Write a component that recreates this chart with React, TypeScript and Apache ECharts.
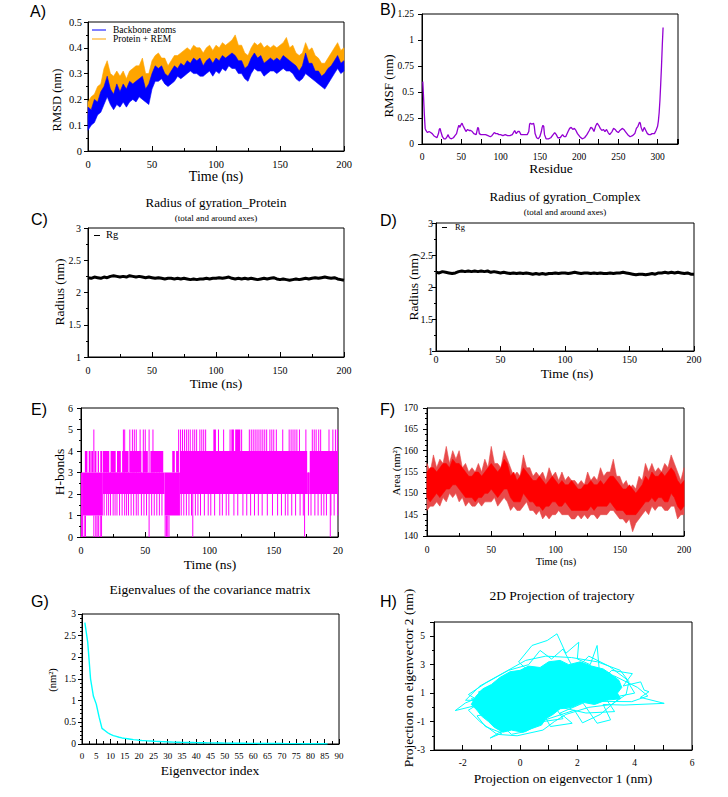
import React, { useEffect, useRef } from 'react';
import * as echarts from 'echarts';

// ---------- A) RMSD: low / high envelope of each trace, one sample every 2.5 ns (0–200 ns)
const RMSD_STEP = 2.5;
const rmsdBackboneLow = [
  0.08, 0.10, 0.11, 0.14, 0.15, 0.18, 0.21, 0.18, 0.16, 0.18,
  0.17, 0.19, 0.17, 0.19, 0.20, 0.19, 0.21, 0.20, 0.19, 0.18,
  0.24, 0.27, 0.27, 0.28, 0.26, 0.25, 0.26, 0.27, 0.29, 0.28,
  0.29, 0.30, 0.31, 0.30, 0.30, 0.29, 0.29, 0.30, 0.31, 0.29,
  0.31, 0.30, 0.32, 0.31, 0.33, 0.32, 0.32, 0.30, 0.30, 0.28,
  0.27, 0.30, 0.32, 0.31, 0.31, 0.29, 0.30, 0.31, 0.31, 0.30,
  0.31, 0.32, 0.31, 0.31, 0.30, 0.28, 0.27, 0.28, 0.30, 0.29,
  0.28, 0.27, 0.26, 0.25, 0.24, 0.26, 0.28, 0.30, 0.32, 0.30,
  0.31,
];
const rmsdBackboneHigh = [
  0.17, 0.16, 0.20, 0.19, 0.23, 0.25, 0.29, 0.24, 0.22, 0.26,
  0.23, 0.26, 0.24, 0.27, 0.26, 0.27, 0.28, 0.29, 0.24, 0.26,
  0.30, 0.33, 0.32, 0.33, 0.30, 0.29, 0.31, 0.33, 0.32, 0.34,
  0.33, 0.35, 0.34, 0.36, 0.35, 0.36, 0.33, 0.35, 0.36, 0.34,
  0.36, 0.35, 0.37, 0.36, 0.37, 0.38, 0.37, 0.35, 0.35, 0.32,
  0.33, 0.36, 0.38, 0.36, 0.37, 0.34, 0.35, 0.36, 0.35, 0.36,
  0.35, 0.37, 0.36, 0.35, 0.34, 0.33, 0.31, 0.33, 0.38, 0.34,
  0.34, 0.31, 0.31, 0.29, 0.30, 0.32, 0.33, 0.35, 0.37, 0.34,
  0.35,
];
const rmsdComplexLow = [
  0.14, 0.16, 0.18, 0.19, 0.22, 0.23, 0.26, 0.23, 0.21, 0.23,
  0.22, 0.24, 0.23, 0.24, 0.25, 0.24, 0.26, 0.27, 0.23, 0.24,
  0.28, 0.30, 0.31, 0.30, 0.29, 0.27, 0.29, 0.30, 0.31, 0.32,
  0.31, 0.33, 0.33, 0.34, 0.33, 0.33, 0.32, 0.33, 0.34, 0.33,
  0.34, 0.34, 0.35, 0.35, 0.35, 0.36, 0.35, 0.34, 0.33, 0.31,
  0.31, 0.34, 0.36, 0.35, 0.35, 0.33, 0.33, 0.34, 0.34, 0.34,
  0.34, 0.35, 0.35, 0.34, 0.33, 0.31, 0.30, 0.31, 0.35, 0.33,
  0.32, 0.30, 0.29, 0.28, 0.28, 0.30, 0.31, 0.33, 0.35, 0.33,
  0.33,
];
const rmsdComplexHigh = [
  0.19, 0.21, 0.22, 0.25, 0.26, 0.32, 0.35, 0.30, 0.29, 0.31,
  0.29, 0.31, 0.28, 0.31, 0.32, 0.33, 0.33, 0.36, 0.30, 0.30,
  0.35, 0.37, 0.38, 0.36, 0.36, 0.33, 0.35, 0.37, 0.37, 0.38,
  0.39, 0.40, 0.39, 0.41, 0.40, 0.40, 0.38, 0.40, 0.41, 0.39,
  0.41, 0.40, 0.42, 0.41, 0.42, 0.43, 0.45, 0.41, 0.41, 0.38,
  0.37, 0.40, 0.42, 0.41, 0.42, 0.40, 0.41, 0.40, 0.41, 0.40,
  0.41, 0.42, 0.44, 0.40, 0.41, 0.38, 0.37, 0.38, 0.42, 0.39,
  0.40, 0.37, 0.36, 0.34, 0.34, 0.36, 0.38, 0.40, 0.42, 0.39,
  0.40,
];

// ---------- B) RMSF per residue: [residue, nm]
const rmsfByResidue = [
  [1, 0.6], [2, 0.45], [3, 0.28], [4, 0.15], [5, 0.13], [7, 0.11], [9, 0.12], [11, 0.11], [13, 0.1],
  [15, 0.08], [17, 0.07], [19, 0.06], [21, 0.1], [22, 0.14], [23, 0.15], [24, 0.12], [26, 0.07],
  [28, 0.05], [30, 0.05], [32, 0.07], [33, 0.09], [35, 0.06], [37, 0.05], [40, 0.06], [42, 0.08],
  [44, 0.1], [46, 0.16], [47, 0.18], [48, 0.16], [50, 0.19], [51, 0.2], [52, 0.18], [54, 0.15],
  [56, 0.12], [58, 0.14], [60, 0.13], [62, 0.13], [64, 0.12], [66, 0.1], [69, 0.09], [71, 0.16],
  [72, 0.15], [73, 0.1], [75, 0.09], [78, 0.09], [81, 0.09], [84, 0.08], [87, 0.07], [89, 0.08],
  [92, 0.11], [94, 0.1], [96, 0.1], [98, 0.09], [100, 0.09], [103, 0.08], [106, 0.09], [109, 0.08],
  [112, 0.08], [115, 0.09], [118, 0.13], [120, 0.1], [122, 0.12], [124, 0.12], [126, 0.09],
  [130, 0.09], [134, 0.09], [136, 0.12], [137, 0.19], [138, 0.2], [140, 0.19], [142, 0.2],
  [143, 0.17], [144, 0.1], [146, 0.06], [148, 0.05], [150, 0.07], [152, 0.12], [153, 0.16],
  [154, 0.18], [155, 0.17], [156, 0.09], [158, 0.05], [161, 0.05], [164, 0.06], [167, 0.09],
  [169, 0.11], [171, 0.09], [173, 0.06], [176, 0.06], [179, 0.09], [181, 0.07], [183, 0.07],
  [186, 0.12], [188, 0.15], [190, 0.16], [192, 0.14], [194, 0.15], [196, 0.13], [198, 0.1],
  [201, 0.07], [204, 0.05], [207, 0.06], [210, 0.09], [213, 0.13], [215, 0.16], [217, 0.15],
  [219, 0.12], [221, 0.17], [223, 0.2], [225, 0.18], [227, 0.15], [229, 0.13], [231, 0.14],
  [233, 0.12], [235, 0.14], [237, 0.11], [239, 0.09], [242, 0.12], [244, 0.15], [246, 0.14],
  [248, 0.12], [250, 0.11], [252, 0.13], [255, 0.15], [257, 0.14], [259, 0.12], [262, 0.09],
  [265, 0.07], [268, 0.08], [271, 0.1], [273, 0.15], [275, 0.17], [277, 0.21], [278, 0.2],
  [279, 0.16], [281, 0.12], [283, 0.16], [285, 0.13], [287, 0.1], [289, 0.09], [291, 0.09],
  [293, 0.1], [296, 0.1], [298, 0.13], [300, 0.17], [301, 0.22], [302, 0.3], [303, 0.42],
  [304, 0.58], [305, 0.75], [306, 0.95], [307, 1.12],
];

// ---------- C/D) Radius of gyration, one sample every 2.5 ns
const RG_STEP = 2.5;
const rgProtein = [
  2.23, 2.22, 2.24, 2.23, 2.22, 2.24, 2.23, 2.25, 2.26, 2.25,
  2.24, 2.25, 2.24, 2.26, 2.25, 2.24, 2.25, 2.24, 2.23, 2.24,
  2.23, 2.22, 2.23, 2.22, 2.21, 2.22, 2.22, 2.21, 2.22, 2.21,
  2.22, 2.21, 2.20, 2.21, 2.20, 2.21, 2.21, 2.22, 2.21, 2.22,
  2.22, 2.23, 2.22, 2.23, 2.24, 2.22, 2.21, 2.22, 2.21, 2.22,
  2.21, 2.22, 2.21, 2.20, 2.21, 2.22, 2.21, 2.22, 2.23, 2.21,
  2.20, 2.21, 2.20, 2.19, 2.20, 2.21, 2.20, 2.21, 2.22, 2.21,
  2.22, 2.23, 2.22, 2.23, 2.24, 2.23, 2.22, 2.23, 2.21, 2.20,
  2.19,
];
const rgComplex = [
  2.23, 2.22, 2.24, 2.23, 2.22, 2.21, 2.22, 2.24, 2.25, 2.24,
  2.25, 2.24, 2.25, 2.24, 2.25, 2.24, 2.25, 2.23, 2.24, 2.23,
  2.22, 2.23, 2.22, 2.21, 2.22, 2.21, 2.22, 2.21, 2.22, 2.21,
  2.20, 2.21, 2.20, 2.21, 2.20, 2.21, 2.21, 2.22, 2.21, 2.22,
  2.22, 2.21, 2.22, 2.23, 2.22, 2.21, 2.22, 2.22, 2.21, 2.22,
  2.21, 2.22, 2.21, 2.21, 2.22, 2.21, 2.22, 2.22, 2.23, 2.22,
  2.21, 2.20, 2.19, 2.20, 2.20, 2.19, 2.20, 2.21, 2.20, 2.22,
  2.22, 2.23, 2.22, 2.23, 2.22, 2.23, 2.22, 2.21, 2.22, 2.20,
  2.20,
];

// ---------- E) H-bonds: densely occupied spans [t0, t1, low, high] and single frames [t, low, high]
const hbondBlocks = [
  [0, 1.5, 0, 3], [1.5, 17, 1, 3],
  [3, 5, 3, 4], [6, 7.5, 3, 4], [8, 9.5, 3, 4], [10.5, 12, 3, 4], [13, 14, 3, 4], [15, 16.5, 3, 4],
  [17, 65, 2, 3],
  [17, 22, 3, 4], [23, 27, 3, 4], [28, 31, 3, 4], [32, 37, 3, 4], [38, 47, 3, 4], [48, 52, 3, 4], [54, 64, 3, 4],
  [65, 77, 1, 3], [71, 73, 3, 4], [74, 76, 3, 4],
  [77, 176, 2, 4], [176, 178, 2, 3], [178, 200, 2, 4],
  [103, 105, 4, 5], [117, 119, 4, 5], [120, 124, 4, 5],
];
const hbondSpikes = [
  [10, 3, 5], [33, 3, 5], [34, 3, 5], [38, 3, 5], [40, 3, 5], [41.5, 3, 5], [43, 3, 5], [46, 3, 5],
  [48.5, 3, 5], [50, 3, 5], [53, 3, 5], [56, 3, 5], [76, 3, 5], [77.5, 3, 5], [79, 3, 5], [80.5, 3, 5],
  [82, 3, 5], [83.5, 3, 5], [85, 3, 5], [87, 3, 5], [88.5, 3, 5], [90, 3, 5], [92.5, 3, 5], [94, 3, 5],
  [95.5, 3, 5], [97, 3, 5], [107, 3, 5], [111, 3, 5], [116, 3, 5], [125, 3, 5], [131, 3, 5],
  [132.5, 3, 5], [134, 3, 5], [135.5, 3, 5], [137, 3, 5], [138.5, 3, 5], [140, 3, 5], [141.5, 3, 5],
  [143, 3, 5], [144.5, 3, 5], [147, 3, 5], [148.5, 3, 5], [150, 3, 5], [152, 3, 5], [157, 3, 5],
  [162, 3, 5], [163.5, 3, 5], [165, 3, 5], [166.5, 3, 5], [168, 3, 5], [170, 3, 5], [175, 3, 5],
  [180, 3, 5], [181.5, 3, 5], [183, 3, 5], [185, 3, 5], [186.5, 3, 5], [193, 3, 5], [196, 3, 5],
  [198, 3, 5], [199.5, 3, 5],
  [18, 1, 3], [20, 1, 3], [21.5, 1, 3], [23, 1, 3], [25, 1, 3], [26.5, 1, 3], [28, 1, 3], [30, 1, 3],
  [32, 1, 3], [34, 1, 3], [35.5, 1, 3], [37, 1, 3], [39, 1, 3], [41, 1, 3], [43, 1, 3], [44.5, 1, 3],
  [47, 1, 3], [49, 1, 3], [51, 1, 3], [55, 1, 3], [57, 1, 3], [59, 1, 3], [61, 1, 3], [63, 1, 3],
  [78, 1, 3], [80, 1, 3], [82, 1, 3], [84, 1, 3], [86, 1, 3], [89, 1, 3], [91, 1, 3], [93, 1, 3],
  [96, 1, 3], [99, 1, 3], [101, 1, 3], [104, 1, 3], [108, 1, 3], [110, 1, 3], [113, 1, 3],
  [115, 1, 3], [119, 1, 3], [122, 1, 3], [126, 1, 3], [129, 1, 3], [132, 1, 3], [135, 1, 3],
  [138, 1, 3], [141, 1, 3], [145, 1, 3], [149, 1, 3], [153, 1, 3], [156, 1, 3], [159, 1, 3],
  [161, 1, 3], [164, 1, 3], [167, 1, 3], [170.5, 1, 3], [173, 1, 3], [177, 1, 3], [179, 1, 3],
  [182, 1, 3], [184.5, 1, 3], [187, 1, 3], [189, 1, 3], [191, 1, 3], [194.5, 1, 3], [197, 1, 3],
  [199.8, 1, 3],
  [0.5, 0, 1], [2.5, 0, 1], [3.5, 0, 1], [10, 0, 1], [11.5, 0, 1], [12.5, 0, 1], [13.5, 0, 1],
  [15, 0, 1], [16, 0, 1], [53, 0, 2], [65.5, 0, 1], [66.5, 0, 1], [67.5, 0, 1], [68.5, 0, 1],
  [87, 0, 2], [174, 0, 2], [194, 0, 2],
];

// ---------- F) SASA (nm²): dense core and outer peaks, one sample every 2.5 ns
const SASA_STEP = 2.5;
const sasaCoreLow = [
  149, 148, 149, 150, 149, 150, 151, 151, 152, 152,
  151, 150, 149, 149, 149, 148, 149, 149, 150, 150,
  151, 150, 149, 150, 151, 151, 149, 148, 148, 148,
  150, 149, 148, 148, 147, 147, 146, 147, 147, 148,
  148, 147, 147, 148, 147, 146, 146, 146, 146, 146,
  146, 147, 146, 147, 147, 147, 147, 148, 147, 146,
  146, 146, 145, 145, 145, 145, 146, 147, 148, 148,
  149, 148, 149, 149, 148, 148, 150, 149, 147, 146,
  147,
];
const sasaCoreHigh = [
  155, 156, 156, 155, 156, 157, 157, 156, 158, 157,
  157, 156, 155, 154, 154, 155, 155, 154, 155, 156,
  157, 156, 155, 156, 158, 157, 154, 155, 153, 154,
  156, 155, 154, 153, 153, 154, 153, 152, 153, 154,
  153, 152, 153, 152, 152, 153, 152, 151, 151, 152,
  152, 153, 152, 152, 153, 152, 153, 154, 154, 153,
  152, 151, 151, 152, 151, 150, 151, 152, 154, 153,
  155, 154, 154, 155, 154, 155, 156, 155, 153, 152,
  153,
];
const sasaPeakLow = [
  146, 147, 147, 148, 147, 149, 148, 150, 149, 150,
  148, 149, 147, 148, 147, 147, 148, 147, 148, 148,
  148, 149, 147, 148, 149, 148, 146, 147, 146, 146,
  147, 148, 146, 146, 145, 146, 144, 145, 144, 145,
  145, 146, 145, 145, 145, 144, 144, 145, 144, 145,
  144, 145, 145, 144, 145, 145, 145, 146, 146, 145,
  144, 144, 143, 144, 141, 143, 144, 145, 146, 145,
  147, 146, 147, 147, 146, 146, 147, 147, 144, 145,
  145,
];
const sasaPeakHigh = [
  157, 155, 159, 156, 158, 157, 161, 157, 160, 158,
  160, 156, 157, 155, 156, 155, 157, 155, 158, 156,
  161, 157, 157, 156, 160, 158, 156, 154, 155, 154,
  159, 156, 156, 154, 155, 154, 155, 153, 156, 154,
  155, 153, 155, 153, 154, 153, 153, 152, 153, 152,
  155, 153, 154, 153, 156, 154, 155, 155, 158, 154,
  154, 152, 153, 151, 152, 151, 154, 153, 157, 155,
  157, 155, 156, 155, 157, 156, 159, 157, 155, 153,
  156,
];

// ---------- G) Eigenvalues (nm²), eigenvector index 1..86
const eigenvalues = [
  2.8, 2.35, 1.5, 1.1, 0.92, 0.62, 0.36, 0.31, 0.26, 0.22,
  0.195, 0.175, 0.155, 0.14, 0.13, 0.12, 0.11, 0.1, 0.095, 0.088,
  0.082, 0.077, 0.072, 0.068, 0.064, 0.06, 0.057, 0.054, 0.051, 0.048,
  0.046, 0.044, 0.042, 0.04, 0.038, 0.037, 0.035, 0.034, 0.033, 0.031,
  0.03, 0.029, 0.028, 0.027, 0.026, 0.025, 0.024, 0.023, 0.022, 0.021,
  0.02, 0.019, 0.019, 0.018, 0.017, 0.017, 0.016, 0.015, 0.015, 0.014,
  0.014, 0.013, 0.013, 0.012, 0.012, 0.011, 0.011, 0.01, 0.01, 0.01,
  0.009, 0.009, 0.009, 0.008, 0.008, 0.008, 0.007, 0.007, 0.007, 0.006,
  0.006, 0.006, 0.005, 0.005, 0.005, 0.004,
];

// ---------- H) Projection on eigenvectors 1 and 2 (nm): densely visited region and trajectory path
const projectionCore = [
  [-1.7, 0.2], [-1.55, 0.75], [-1.3, 1.3], [-1.0, 1.6], [-0.7, 2.1], [-0.35, 2.5], [0.0, 2.6],
  [0.3, 2.9], [0.7, 2.8], [1.0, 3.2], [1.4, 3.3], [1.7, 3.0], [2.1, 3.2], [2.5, 2.9], [2.9, 2.7],
  [3.2, 2.3], [3.45, 1.9], [3.55, 1.4], [3.4, 1.0], [3.5, 0.6], [3.0, 0.5], [2.6, 0.2],
  [2.2, 0.35], [1.8, 0.0], [1.4, -0.1], [1.15, -0.5], [0.9, -0.8], [0.75, -1.25], [0.4, -1.5],
  [0.1, -1.75], [-0.3, -1.6], [-0.6, -1.75], [-0.9, -1.4], [-1.1, -1.0], [-1.35, -0.6], [-1.5, -0.2],
];
const projectionPath = [
  [-0.5, 0.5], [-1.2, 0.9], [-1.91, 0.3], [-2.26, -0.23], [-1.6, 0.1], [-1.0, -0.4], [-1.5, -0.6],
  [-1.21, -1.35], [-0.63, -1.81], [-1.04, -2.16], [-0.5, -1.5], [-0.22, -1.35], [0.3, -0.8],
  [0.6, 0.4], [1.06, -1.35], [1.82, -1.12], [1.4, -0.4], [2.2, 0.3], [2.69, -1.12], [3.16, -0.88],
  [2.9, 0.2], [3.63, 0.16], [5.03, 0.28], [4.2, 0.7], [4.5, 1.1], [4.33, 1.21], [4.21, 1.79],
  [3.6, 1.5], [3.92, 2.37], [3.2, 2.6], [2.8, 1.8], [2.69, 4.35], [2.45, 3.0], [2.0, 3.4],
  [2.05, 4.58], [1.6, 3.8], [1.29, 5.17], [0.95, 4.7], [0.42, 4.35], [-0.05, 3.19], [0.5, 2.2],
  [-0.63, 1.98], [-0.98, 1.51], [-1.45, 1.07], [-0.8, 0.6], [-1.7, 0.6], [-1.2, -0.2], [-0.3, -1.9],
  [0.2, -1.7], [0.8, -1.0], [1.5, -0.8], [1.2, 0.1], [2.3, -0.4], [3.3, -0.3], [3.0, 0.6],
  [4.0, 1.0], [3.7, 2.0], [3.1, 2.9], [2.4, 3.6], [1.9, 2.6], [1.5, 4.1], [1.1, 3.4], [0.7, 4.0],
  [0.3, 3.0], [-0.4, 2.6], [-1.2, 1.7], [-1.8, 0.9], [-1.3, 0.3], [-0.6, -1.0], [0.1, -0.4],
  [1.3, 1.2], [2.5, 1.0], [3.4, 1.2], [2.7, 2.2], [1.6, 2.0], [0.5, 1.0], [-0.2, 0.0], [0.4, -1.2],
  [1.9, -0.2], [2.18, -1.09], [2.8, -0.5], [3.5, 0.7], [3.0, 1.6], [2.0, 1.5], [1.0, 2.6],
  [0.0, 1.8], [-0.9, 0.2], [-0.3, -0.8], [0.9, 0.3], [2.2, 2.3], [3.3, 2.2], [4.1, 1.4],
  [4.46, 0.8], [3.9, 0.4], [-1.9, 0.5], [-1.4, 1.5], [-0.6, 2.4], [0.2, 3.3], [0.9, 3.6],
  [1.8, 3.5], [2.7, 3.2], [3.5, 2.6], [3.8, 1.8], [3.7, 0.9], [3.2, 0.2], [2.4, 0.0], [1.6, -0.5],
  [1.2, -1.0], [0.8, -1.6], [-0.1, -2.0], [-0.8, -1.9], [-1.4, -1.0], [-1.8, -0.2], [-1.0, 0.8],
  [0.6, 2.5], [2.1, 2.8], [3.3, 1.5], [2.0, 0.5], [0.5, -0.9], [-1.3, 0.5],
];

const SERIF = 'Liberation Serif';
const SANS = 'Liberation Sans';

const BLUE = '#0000ff';
const ORANGE = '#ffa500';
const PURPLE = '#9400d3';
const MAGENTA = '#ff00ff';
const RED = '#ff0000';
const CYAN = '#00ffff';

// Filled envelope between two sampled curves, drawn as a single polygon.
function envelope(idx: number, step: number, lo: number[], hi: number[], color: string, z: number) {
  const n = Math.min(lo.length, hi.length);
  const pts: number[][] = [];
  for (let i = 0; i < n; i++) pts.push([i * step, lo[i], hi[i]]);
  return {
    type: 'custom',
    xAxisIndex: idx,
    yAxisIndex: idx,
    z,
    silent: true,
    data: pts,
    encode: { x: 0, y: [1, 2] },
    renderItem: (params: any, api: any) => {
      if (params.dataIndex !== 0) return null;
      const top = pts.map((p) => api.coord([p[0], p[2]]));
      const bottom = pts.map((p) => api.coord([p[0], p[1]])).reverse();
      return {
        type: 'polygon',
        shape: { points: top.concat(bottom) },
        style: { fill: color, stroke: color, lineWidth: 0.6 },
      };
    },
  };
}

function xAxisOf(gridIndex: number, min: number, max: number, interval: number, fontSize: number, margin: number, extra: any = {}) {
  return {
    type: 'value',
    gridIndex,
    min,
    max,
    interval,
    axisLine: { show: true, onZero: false, lineStyle: { color: '#000', width: 1 } },
    axisTick: { show: true, inside: true, length: 5, lineStyle: { color: '#000', width: 1 } },
    minorTick: { show: true, splitNumber: 2, length: 3, lineStyle: { color: '#000', width: 1 } },
    splitLine: { show: false },
    axisLabel: { color: '#000', fontFamily: SERIF, fontWeight: 'normal', fontSize, margin, ...(extra.axisLabel || {}) },
    ...(extra.rest || {}),
  };
}

function yAxisOf(gridIndex: number, min: number, max: number, interval: number, fontSize: number, margin: number, extra: any = {}) {
  return {
    type: 'value',
    gridIndex,
    min,
    max,
    interval,
    axisLine: { show: true, onZero: false, lineStyle: { color: '#000', width: 1 } },
    axisTick: { show: true, inside: false, length: 4, lineStyle: { color: '#000', width: 1 } },
    minorTick: { show: true, splitNumber: 2, length: 2, lineStyle: { color: '#000', width: 1 } },
    splitLine: { show: false },
    axisLabel: { color: '#000', fontFamily: SERIF, fontWeight: 'normal', fontSize, margin, ...(extra.axisLabel || {}) },
    ...(extra.rest || {}),
  };
}

function text(t: string, x: number, y: number, size: number, opts: any = {}) {
  return {
    type: 'text',
    x,
    y,
    rotation: opts.rot || 0,
    silent: true,
    style: {
      text: t,
      fontSize: size,
      fontFamily: opts.family || SERIF,
      fontWeight: 'normal',
      fill: '#000',
      textAlign: opts.align || 'center',
      textVerticalAlign: 'middle',
    },
  };
}

function legendLine(x1: number, x2: number, y: number, color: string) {
  return { type: 'line', silent: true, shape: { x1, y1: y, x2, y2: y }, style: { stroke: color, lineWidth: 1 } };
}

const grids = [
  { left: 88, top: 22, width: 256, height: 129 }, // A
  { left: 422, top: 14, width: 256, height: 130 }, // B
  { left: 88, top: 228, width: 256, height: 129 }, // C
  { left: 436, top: 223, width: 258, height: 128 }, // D
  { left: 81, top: 408, width: 257, height: 129 }, // E
  { left: 427, top: 408, width: 257, height: 128 }, // F
  { left: 82, top: 614, width: 257, height: 130 }, // G
  { left: 434, top: 622, width: 258, height: 128 }, // H
];

function buildOption() {
  const UP = Math.PI / 2;
  return {
    animation: false,
    backgroundColor: '#ffffff',
    grid: grids.map((g) => ({
      ...g,
      show: true,
      borderColor: '#000',
      borderWidth: 1,
      backgroundColor: 'transparent',
      containLabel: false,
      outerBoundsMode: 'none',
    })),
    xAxis: [
      xAxisOf(0, 0, 200, 50, 10.5, 8),
      xAxisOf(1, 0, 326, 25, 9.5, 8, {
        axisLabel: { formatter: (v: number) => (v % 50 === 0 ? String(v) : '') },
        rest: { minorTick: { show: false } },
      }),
      xAxisOf(2, 0, 200, 50, 10, 8),
      xAxisOf(3, 0, 200, 50, 10, 3),
      xAxisOf(4, 0, 200, 50, 10, 8, {
        axisLabel: { formatter: (v: number) => (v === 200 ? '20' : String(v)) },
      }),
      xAxisOf(5, 0, 200, 50, 9.5, 9),
      xAxisOf(6, 0, 90, 5, 9, 7),
      xAxisOf(7, -3, 6, 1, 9.5, 8, {
        axisLabel: { formatter: (v: number) => (Math.round(v) % 2 === 0 ? String(v) : '') },
        rest: { minorTick: { show: false } },
      }),
    ],
    yAxis: [
      yAxisOf(0, 0, 0.5, 0.1, 10.5, 6),
      yAxisOf(1, 0, 1.25, 0.25, 9.5, 8, { rest: { minorTick: { show: false } } }),
      yAxisOf(2, 1, 3, 0.5, 10, 7),
      yAxisOf(3, 1, 3, 0.5, 10, 3),
      yAxisOf(4, 0, 6, 1, 10, 8),
      yAxisOf(5, 140, 170, 5, 9.5, 9, {
        rest: { minorTick: { show: true, splitNumber: 4, length: 2, lineStyle: { color: '#000' } } },
      }),
      yAxisOf(6, 0, 3, 0.5, 9.5, 6, {
        rest: { minorTick: { show: true, splitNumber: 5, length: 2, lineStyle: { color: '#000' } } },
      }),
      yAxisOf(7, -3, 6, 2, 9.5, 9, {
        axisLabel: { formatter: (v: number) => (v > 5.5 ? '' : String(v)) },
      }),
    ],
    series: [
      // A) RMSD
      envelope(0, RMSD_STEP, rmsdComplexLow, rmsdComplexHigh, ORANGE, 2),
      envelope(0, RMSD_STEP, rmsdBackboneLow, rmsdBackboneHigh, BLUE, 3),
      // B) RMSF
      {
        type: 'line',
        xAxisIndex: 1,
        yAxisIndex: 1,
        data: rmsfByResidue,
        symbol: 'none',
        silent: true,
        lineStyle: { color: PURPLE, width: 1.3 },
      },
      // C) Rg protein
      {
        type: 'line',
        xAxisIndex: 2,
        yAxisIndex: 2,
        data: rgProtein.map((v, i) => [i * RG_STEP, v]),
        symbol: 'none',
        silent: true,
        lineStyle: { color: '#000', width: 3 },
      },
      // D) Rg complex
      {
        type: 'line',
        xAxisIndex: 3,
        yAxisIndex: 3,
        data: rgComplex.map((v, i) => [i * RG_STEP, v]),
        symbol: 'none',
        silent: true,
        lineStyle: { color: '#000', width: 3 },
      },
      // E) H-bonds: dense spans
      {
        type: 'custom',
        xAxisIndex: 4,
        yAxisIndex: 4,
        silent: true,
        z: 2,
        data: hbondBlocks,
        encode: { x: [0, 1], y: [2, 3] },
        renderItem: (_p: any, api: any) => {
          const a = api.coord([api.value(0), api.value(3)]);
          const b = api.coord([api.value(1), api.value(2)]);
          return {
            type: 'rect',
            shape: { x: a[0], y: a[1], width: b[0] - a[0], height: b[1] - a[1] },
            style: { fill: MAGENTA },
          };
        },
      },
      // E) H-bonds: single frames
      {
        type: 'custom',
        xAxisIndex: 4,
        yAxisIndex: 4,
        silent: true,
        z: 3,
        data: hbondSpikes,
        encode: { x: 0, y: [1, 2] },
        renderItem: (_p: any, api: any) => {
          const a = api.coord([api.value(0), api.value(1)]);
          const b = api.coord([api.value(0), api.value(2)]);
          return {
            type: 'line',
            shape: { x1: a[0], y1: a[1], x2: b[0], y2: b[1] },
            style: { stroke: MAGENTA, lineWidth: 1 },
          };
        },
      },
      // F) SASA
      envelope(5, SASA_STEP, sasaPeakLow, sasaPeakHigh, '#e84a4a', 2),
      envelope(5, SASA_STEP, sasaCoreLow, sasaCoreHigh, RED, 3),
      // G) Eigenvalues
      {
        type: 'line',
        xAxisIndex: 6,
        yAxisIndex: 6,
        data: eigenvalues.map((v, i) => [i + 1, v]),
        symbol: 'none',
        silent: true,
        lineStyle: { color: CYAN, width: 1.4 },
      },
      // H) Projection: densely visited region
      {
        type: 'custom',
        xAxisIndex: 7,
        yAxisIndex: 7,
        silent: true,
        z: 2,
        data: projectionCore,
        encode: { x: 0, y: 1 },
        renderItem: (params: any, api: any) => {
          if (params.dataIndex !== 0) return null;
          return {
            type: 'polygon',
            shape: { points: projectionCore.map((p) => api.coord(p)) },
            style: { fill: CYAN, stroke: CYAN, lineWidth: 1 },
          };
        },
      },
      // H) Projection: trajectory path
      {
        type: 'line',
        xAxisIndex: 7,
        yAxisIndex: 7,
        data: projectionPath,
        symbol: 'none',
        silent: true,
        z: 3,
        lineStyle: { color: CYAN, width: 1 },
      },
    ],
    graphic: {
      elements: [
        // panel letters
        text('A)', 30, 11, 16, { family: SANS, align: 'left' }),
        text('B)', 380, 9.5, 16, { family: SANS, align: 'left' }),
        text('C)', 31, 219, 16, { family: SANS, align: 'left' }),
        text('D)', 380, 220.5, 16, { family: SANS, align: 'left' }),
        text('E)', 31, 409.5, 16, { family: SANS, align: 'left' }),
        text('F)', 380, 409.5, 16, { family: SANS, align: 'left' }),
        text('G)', 31, 601, 16, { family: SANS, align: 'left' }),
        text('H)', 380, 601.5, 16, { family: SANS, align: 'left' }),

        // A
        legendLine(92, 106, 30, BLUE),
        text('Backbone atoms', 113, 30, 9.5, { align: 'left' }),
        legendLine(92, 106, 39, ORANGE),
        text('Protein + REM', 113, 39, 9.5, { align: 'left' }),
        text('Time (ns)', 216, 176, 14),
        text('RMSD (nm)', 57, 100, 12.5, { rot: UP }),

        // B
        text('Residue', 551, 168, 13.5),
        text('RMSF (nm)', 388, 86, 13, { rot: UP }),

        // C
        text('Radius of gyration_Protein', 216, 202, 13),
        text('(total and around axes)', 216, 218, 9),
        legendLine(94, 100, 235.5, '#000'),
        text('Rg', 106, 234, 10.5, { align: 'left' }),
        text('Radius (nm)', 59, 292, 13.5, { rot: UP }),
        text('Time (ns)', 216, 383, 13.5),

        // D
        text('Radius of gyration_Complex', 565, 196, 13),
        text('(total and around axes)', 565, 212, 9),
        legendLine(442, 447, 227.5, '#000'),
        text('Rg', 455, 227, 8.5, { align: 'left' }),
        text('Radius (nm)', 413, 287, 13.5, { rot: UP }),
        text('Time (ns)', 567, 373, 13.5),

        // E
        text('H-bonds', 59, 472, 13.5, { rot: UP }),
        text('Time (ns)', 210, 564, 13.5),

        // F
        text('Area (nm²)', 396, 471, 11, { rot: UP }),
        text('Time (ns)', 556, 561, 10.5),

        // G
        text('Eigenvalues of the covariance matrix', 210, 589, 13.5),
        text('(nm²)', 52, 680, 10.5, { rot: UP }),
        text('Eigenvector index', 210, 770, 13.5),

        // H
        text('2D Projection of trajectory', 562, 595, 13.5),
        text('Projection on eigenvector 2 (nm)', 408, 678, 13.5, { rot: UP }),
        text('Projection on eigenvector 1 (nm)', 563, 778, 13.5),
      ],
    },
  };
}

export default function App() {
  const ref = useRef<HTMLDivElement>(null);

  useEffect(() => {
    document.body.style.margin = '0';
    if (!ref.current) return;
    const chart = echarts.init(ref.current, undefined, { renderer: 'svg' });
    chart.setOption(buildOption() as any);
    return () => chart.dispose();
  }, []);

  return <div ref={ref} style={{ width: 728, height: 797, background: '#fff' }} />;
}
